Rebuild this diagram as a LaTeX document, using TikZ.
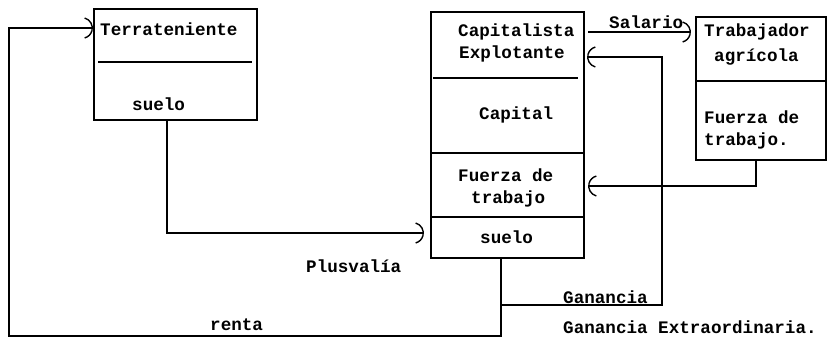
\documentclass[tikz,border=0pt]{standalone}
\usepackage{fontspec}
\setmonofont{Liberation Mono}
\usetikzlibrary{arrows.meta}
\begin{document}
\begin{tikzpicture}[x=1pt,y=-1pt,
  box/.style={draw,line width=1.3pt,rectangle,inner sep=0pt},
  conn/.style={line width=1.3pt},
  arr/.style={conn,-{Arc Barb[arc=150,length=11pt,line width=1.4pt]}},
  lbl/.style={font=\ttfamily\bfseries\fontsize{17.6}{19}\selectfont,inner sep=0pt,anchor=west},
  divl/.style={line width=1.3pt}]
\useasboundingbox[fill=white] (0,0) rectangle (828,338);
% boxes
\node[box,minimum width=163pt,minimum height=111pt] (T) at (175.5,64.5) {};
\node[box,minimum width=153pt,minimum height=246pt] (C) at (507.5,135) {};
\node[box,minimum width=130pt,minimum height=143pt] (W) at (761,88.5) {};
% dividers
\draw[divl] (98,62) -- (252,62);
\draw[divl] (433,78) -- (578,78);
\draw[divl] (C.west |- 0,153) -- (C.east |- 0,153);
\draw[divl] (C.west |- 0,217) -- (C.east |- 0,217);
\draw[divl] (W.west |- 0,81) -- (W.east |- 0,81);
% texts
\node[lbl] (t1) at (100,29) {Terrateniente};
\node[lbl] (t2) at (132,104) {suelo};
\node[lbl] (c1) at (458,32) {Capitalista};
\node[lbl] (c2) at (459,54) {Explotante};
\node[lbl] (c3) at (479,115) {Capital};
\node[lbl] (c4) at (458,175) {Fuerza de};
\node[lbl] (c5) at (471,199) {trabajo};
\node[lbl] (c6) at (480,237) {suelo};
\node[lbl] (w1) at (704,32) {Trabajador};
\node[lbl] (w2) at (714,57) {agrícola};
\node[lbl] (w3) at (704,117) {Fuerza de};
\node[lbl] (w4) at (704,141) {trabajo.};
\node[lbl] (l1) at (609,22) {Salario};
\node[lbl] (l2) at (306,266) {Plusvalía};
\node[lbl] (l3) at (563,297) {Ganancia};
\node[lbl] (l4) at (563,327) {Ganancia Extraordinaria.};
\node[lbl] (l5) at (210,325) {renta};
% connector coordinates
\coordinate (rA) at (501,336);
\coordinate (rB) at (9,336);
\coordinate (rC) at (9,28);
\coordinate (rEnd) at (93,28);
\coordinate (gA) at (501,305);
\coordinate (gB) at (662,305);
\coordinate (gC) at (662,57);
\coordinate (gEnd) at (587,57);
\coordinate (pA) at (167,233);
\coordinate (pEnd) at (424,233);
\coordinate (sA) at (588,32);
\coordinate (sEnd) at (691,32);
\coordinate (fA) at (756,186);
\coordinate (fEnd) at (588,186);
% connectors
\draw[arr] (C.south -| rA) -- (rA) -- (rB) -- (rC) -- (rEnd);
\draw[arr] (gA) -- (gB) -- (gC) -- (gEnd);
\draw[arr] (T.south -| pA) -- (pA) -- (pEnd);
\draw[arr] (sA) -- (sEnd);
\draw[arr] (W.south -| fA) -- (fA) -- (fEnd);
\end{tikzpicture}
\end{document}
